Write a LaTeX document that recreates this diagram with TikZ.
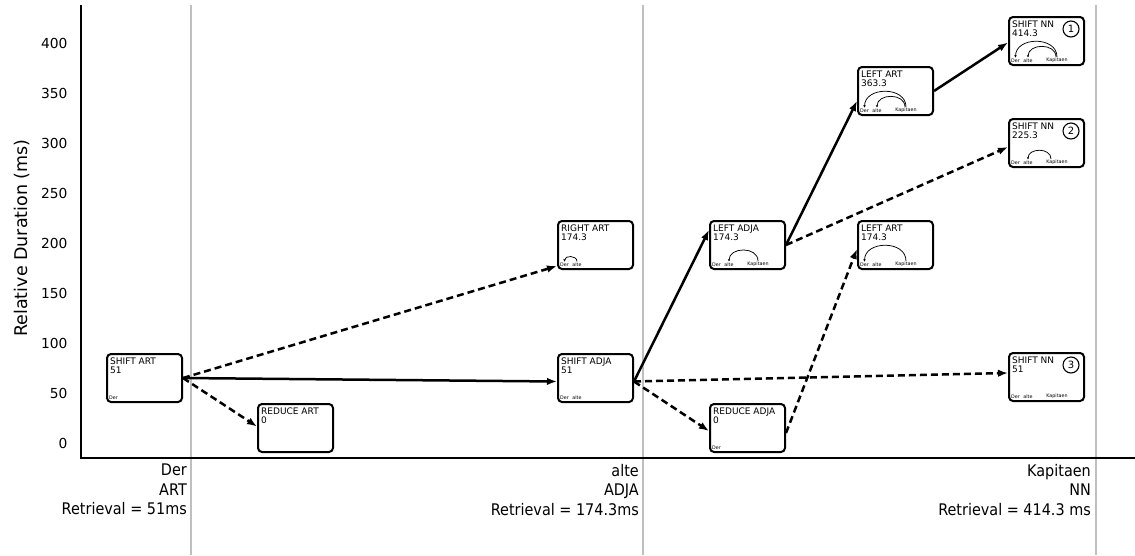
\documentclass[tikz,border=0pt]{standalone}
\usepackage{fontspec}
\setmainfont{DejaVu Sans}
\newfontfamily\condf{DejaVu Sans}[FakeStretch=0.9]
\usetikzlibrary{arrows.meta}
\tikzset{
  pbox/.style={draw, rounded corners=4pt, line width=2pt, minimum width=75pt, minimum height=48pt, anchor=north west, inner sep=0pt},
  btext/.style={anchor=north west, align=left, inner sep=0pt, font=\fontsize{9}{9.2}\selectfont},
  wtext/.style={inner sep=0.5pt, font=\fontsize{4.8}{5}\selectfont},
  arcs/.style={line width=0.75pt, looseness=1.3, -{Stealth[length=2.4pt,width=2.4pt]}},
  sol/.style={line width=2.5pt, -{Latex[length=10pt,width=7.5pt]}},
  dsh/.style={sol, dash pattern=on 7pt off 4pt},
  grid/.style={line width=2.8pt, draw=black!25},
  axis/.style={line width=2.4pt},
  tick/.style={anchor=east, font=\fontsize{13.8}{15}\selectfont},
  wlabel/.style={anchor=north east, align=right, inner sep=0pt, font=\condf\fontsize{16}{19.5}\selectfont},
  numc/.style={draw, circle, line width=1.1pt, minimum size=16pt, inner sep=0pt, font=\fontsize{10}{10}\selectfont}
}
\newcommand\mkbox[4]{%
  \node[pbox] (#1) at (#2,#3) {};
  \node[btext] at ([xshift=4pt,yshift=-4.7pt]#1.north west) {#4};
}
\newcommand\wder[1]{\node[wtext] (#1-d) at ([xshift=7.5pt,yshift=5.5pt]#1.south west) {Der};}
\newcommand\walte[1]{\node[wtext] (#1-a) at ([xshift=20pt,yshift=5.5pt]#1.south west) {alte};}
\newcommand\wkap[1]{\node[wtext] (#1-k) at ([xshift=49pt,yshift=5.5pt]#1.south west) {Kapitaen};}
\newcommand\wall[1]{\wder{#1}\walte{#1}\wkap{#1}}
\begin{document}
\begin{tikzpicture}[x=1pt,y=-1pt]
\fill[white] (0,0) rectangle (1135,555);
\useasboundingbox (0,0) rectangle (1135,555);

% grid lines
\coordinate (g1t) at (191,5); \coordinate (g1b) at (191,555);
\coordinate (g2t) at (643,5); \coordinate (g2b) at (643,555);
\coordinate (g3t) at (1096,5); \coordinate (g3b) at (1096,555);
\draw[grid] (g1t) -- (g1b);
\draw[grid] (g2t) -- (g2b);
\draw[grid] (g3t) -- (g3b);

% axes
\coordinate (ytop) at (81,5);
\coordinate (org) at (81,458);
\coordinate (xend) at (1135,458);
\draw[axis] (ytop) -- (org) -- (xend);

% ticks
\foreach \v in {0,50,...,400} {
  \node[tick] (t\v) at (71,443-\v) {\v};
}
\node[rotate=90, font=\fontsize{17.5}{18}\selectfont] (ylab) at (22,238) {Relative Duration (ms)};

% word labels
\node[wlabel] (w1) at (187,464) {Der\\ART\\Retrieval = 51ms};
\node[wlabel] (w2) at (639,464) {alte\\ADJA\\Retrieval = 174.3ms};
\node[wlabel] (w3) at (1091,464) {Kapitaen\\NN\\Retrieval = 414.3 ms};

% boxes
\mkbox{sart}{106}{353}{SHIFT ART\\51}
\wder{sart}
\mkbox{reart}{257}{403}{REDUCE ART\\0}
\mkbox{rart}{557}{220}{RIGHT ART\\174.3}
\wder{rart}\walte{rart}
\mkbox{sadja}{557}{353}{SHIFT ADJA\\51}
\wder{sadja}\walte{sadja}
\mkbox{ladja}{709}{220}{LEFT ADJA\\174.3}
\wall{ladja}
\mkbox{radja}{709}{403}{REDUCE ADJA\\0}
\wder{radja}
\mkbox{lartA}{857}{66}{LEFT ART\\363.3}
\wall{lartA}
\mkbox{lartB}{857}{220}{LEFT ART\\174.3}
\wall{lartB}
\mkbox{snnA}{1008}{16}{SHIFT NN\\414.3}
\wall{snnA}
\mkbox{snnB}{1008}{118}{SHIFT NN\\225.3}
\wall{snnB}
\mkbox{snnC}{1008}{352}{SHIFT NN\\51}
\wall{snnC}

% circled numbers
\node[numc] (c1) at ([xshift=63pt,yshift=-13pt]snnA.north west) {1};
\node[numc] (c2) at ([xshift=63pt,yshift=-13pt]snnB.north west) {2};
\node[numc] (c3) at ([xshift=63pt,yshift=-13pt]snnC.north west) {3};

% dependency arcs
\draw[arcs] ([yshift=0.5pt]rart-a.north) to[out=90,in=90] ([yshift=0.5pt]rart-d.north);
\draw[arcs] ([yshift=0.5pt]ladja-k.north) to[out=90,in=90] ([yshift=0.5pt]ladja-a.north);
\draw[arcs] ([yshift=0.5pt]lartA-k.north) to[out=90,in=90] ([yshift=0.5pt]lartA-d.north);
\draw[arcs] ([yshift=0.5pt,xshift=-1pt]lartA-k.north) to[out=90,in=90] ([yshift=0.5pt]lartA-a.north);
\draw[arcs] ([yshift=0.5pt]lartB-k.north) to[out=90,in=90] ([yshift=0.5pt]lartB-d.north);
\draw[arcs] ([yshift=0.5pt]snnA-k.north) to[out=90,in=90] ([yshift=0.5pt]snnA-d.north);
\draw[arcs] ([yshift=0.5pt,xshift=-1pt]snnA-k.north) to[out=90,in=90] ([yshift=0.5pt]snnA-a.north);
\draw[arcs] ([yshift=0.5pt,xshift=-6pt]snnB-k.north) to[out=90,in=90] ([yshift=0.5pt]snnB-a.north);

% transitions
\draw[sol] (sart.east) -- ([yshift=-3.5pt]sadja.west);
\draw[dsh] (sart.east) -- ([yshift=-21pt]rart.west);
\draw[dsh] (sart.east) -- ([yshift=1.5pt]reart.west);
\draw[sol] ([yshift=-3.5pt]sadja.east) -- ([yshift=15pt]ladja.west);
\draw[dsh] ([yshift=-3.5pt]sadja.east) -- ([yshift=4pt]snnC.west);
\draw[dsh] ([yshift=-3.5pt]sadja.east) -- ([yshift=-3pt]radja.west);
\draw[dsh] ([yshift=-5pt]radja.east) -- ([yshift=-4pt]lartB.west);
\draw[sol] (ladja.east) -- ([yshift=-10pt]lartA.west);
\draw[dsh] (ladja.east) -- ([yshift=-4pt]snnB.west);
\draw[sol] (lartA.east) -- ([yshift=-1.5pt]snnA.west);
\end{tikzpicture}
\end{document}
